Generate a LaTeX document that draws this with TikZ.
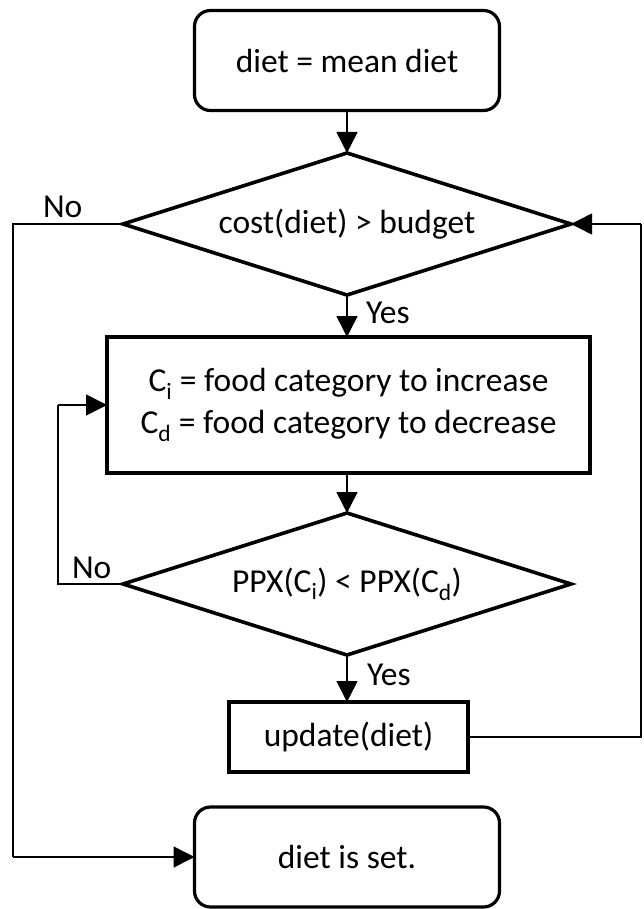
\documentclass[tikz,border=0pt]{standalone}
\usepackage{fontspec}
\setmainfont{Carlito}
\usetikzlibrary{shapes.geometric,arrows.meta}
\begin{document}
\begin{tikzpicture}[x=1pt,y=-1pt,
  every node/.style={font=\fontsize{33.5}{42}\selectfont, inner sep=0pt, outer sep=0pt},
  termbox/.style={draw, line width=3.2pt, rounded corners=16pt, minimum width=305pt, minimum height=100pt},
  procbox/.style={draw, line width=3.4pt},
  decide/.style={draw, diamond, line width=3.6pt, shape aspect=3.15, minimum width=448pt, minimum height=142pt},
  flow/.style={line width=1.5pt, -{Triangle[length=21pt,width=21pt]}},
  plain/.style={line width=1.5pt},
  lbl/.style={anchor=base west}
]
\fill[white] (0,0) rectangle (644,909);
\useasboundingbox (0,0) rectangle (644,909);

\node[termbox] (start) at (347,60.5) {diet = mean diet};
\node[decide] (d1) at (347,224) {cost(diet) > budget};
\node[procbox, minimum width=483pt, minimum height=136pt, align=center] (cat) at (348.5,405)
  {C\textsubscript{i} = food category to increase\\C\textsubscript{d} = food category to decrease};
\node[decide] (d2) at (347,584) {PPX(C\textsubscript{i}) < PPX(C\textsubscript{d})};
\node[procbox, minimum width=239pt, minimum height=70pt] (upd) at (348.5,737) {update(diet)};
\node[termbox] (done) at (347,857) {diet is set.};

\coordinate (outerx) at (13,0);
\coordinate (innerx) at (58,0);
\coordinate (rightx) at (641,0);

\draw[flow] (start.south) -- (d1.north);
\draw[flow] (d1.south) -- (d1.south |- cat.north);
\draw[flow] (cat.south -| d2.north) -- (d2.north);
\draw[flow] (d2.south) -- (d2.south |- upd.north);

\draw[plain] (d1.west) -- (outerx |- d1.west) -- (outerx |- done.west);
\draw[flow] (outerx |- done.west) -- (done.west);

\draw[plain] (d2.west) -- (innerx |- d2.west) -- (innerx |- cat.west);
\draw[flow] (innerx |- cat.west) -- (cat.west);

\draw[plain] (upd.east) -- (rightx |- upd.east) -- (rightx |- d1.east);
\draw[flow] (rightx |- d1.east) -- (d1.east);

\node[lbl] (no1) at (43,218) {No};
\node[lbl] (yes1) at (366,323) {Yes};
\node[lbl] (no2) at (72,578) {No};
\node[lbl] (yes2) at (367,685) {Yes};
\end{tikzpicture}
\end{document}
